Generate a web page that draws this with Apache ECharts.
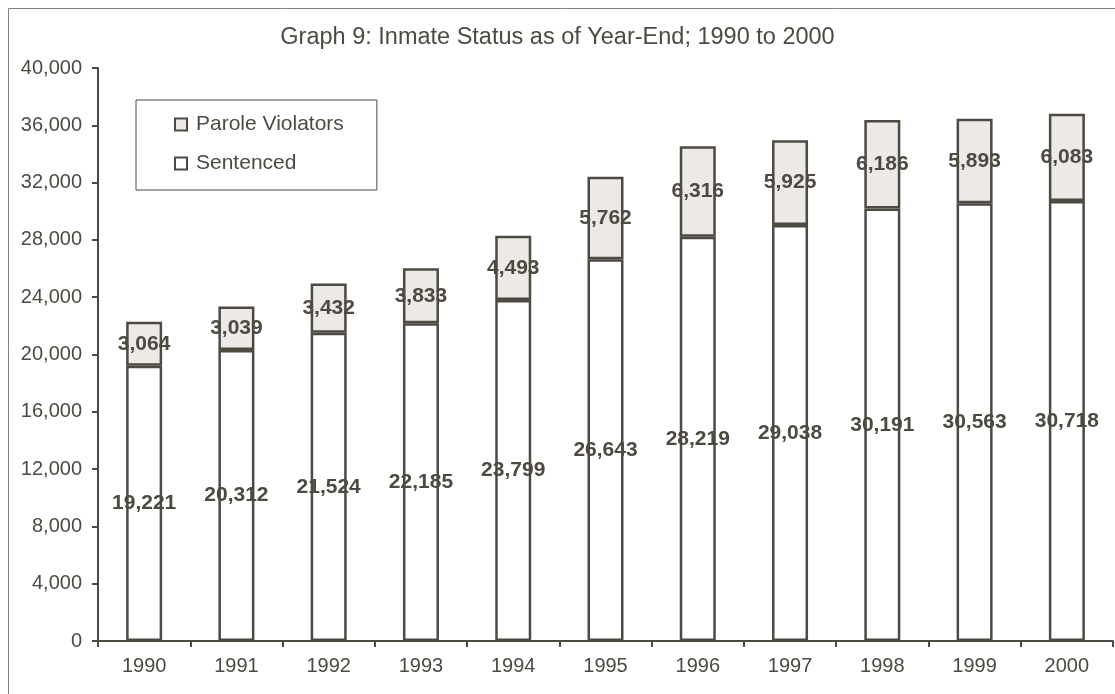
<!DOCTYPE html>
<html>
<head>
<meta charset="utf-8">
<script src="https://cdn.jsdelivr.net/npm/echarts@6/dist/echarts.min.js"></script>
<style>
  html, body { margin: 0; padding: 0; background: #fff; }
  #chart { width: 1115px; height: 694px; }
</style>
</head>
<body>
<div id="chart"></div>
<script>
// data
var years = ['1990', '1991', '1992', '1993', '1994', '1995', '1996', '1997', '1998', '1999', '2000']
var sentenced = [19221, 20312, 21524, 22185, 23799, 26643, 28219, 29038, 30191, 30563, 30718]
var paroleViolators = [3064, 3039, 3432, 3833, 4493, 5762, 6316, 5925, 6186, 5893, 6083]

var ink = '#4d4a42'
var font = 'Liberation Sans, Arial, sans-serif'

var chart = echarts.init(document.getElementById('chart'))

// label in the middle of each segment, thousands separator
var barLabel = {
  show: true,
  position: 'inside',
  color: ink,
  fontFamily: font,
  fontSize: 21,
  fontWeight: 'bold',
  formatter: function (p) {
    return p.value.toLocaleString('en-US')
  }
}

chart.setOption({
  animation: false,
  textStyle: { fontFamily: font },
  title: {
    text: 'Graph 9: Inmate Status as of Year-End; 1990 to 2000',
    left: 'center',
    top: 21,
    textStyle: { color: ink, fontSize: 23.5, fontWeight: 'normal', fontFamily: font }
  },
  graphic: [
    {
      type: 'rect',
      shape: { x: 8.5, y: 8.5, width: 1200, height: 800 },
      style: { fill: 'none', stroke: '#808080', lineWidth: 1 },
      silent: true
    }
  ],
  legend: {
    orient: 'vertical',
    left: 136,
    top: 100,
    data: ['Parole Violators', 'Sentenced'],
    icon: 'rect',
    itemWidth: 12,
    itemHeight: 12,
    itemGap: 18,
    padding: [14, 33, 16, 38],
    borderColor: ink,
    borderWidth: 1,
    textStyle: { color: ink, fontSize: 21, fontFamily: font, padding: [0, 0, 0, 4] }
  },
  grid: {
    left: 98,
    right: 2,
    top: 68,
    bottom: 53,
    containLabel: false
  },
  xAxis: {
    type: 'category',
    data: years,
    axisLine: { lineStyle: { color: ink, width: 2 } },
    axisTick: { show: true, length: 6, lineStyle: { color: ink, width: 2 } },
    axisLabel: { color: ink, fontSize: 20, margin: 15, fontFamily: font }
  },
  yAxis: {
    type: 'value',
    min: 0,
    max: 40000,
    interval: 4000,
    axisLine: { show: true, lineStyle: { color: ink, width: 2 } },
    axisTick: { show: true, length: 6, lineStyle: { color: ink, width: 2 } },
    splitLine: { show: false },
    axisLabel: {
      color: ink,
      fontSize: 20,
      margin: 16,
      fontFamily: font,
      formatter: function (v) { return v.toLocaleString('en-US') }
    }
  },
  series: [
    {
      name: 'Sentenced',
      type: 'bar',
      stack: 'total',
      barWidth: 36,
      data: sentenced,
      itemStyle: { color: '#ffffff', borderColor: ink, borderWidth: 2.5 },
      label: barLabel
    },
    {
      name: 'Parole Violators',
      type: 'bar',
      stack: 'total',
      barWidth: 36,
      data: paroleViolators,
      itemStyle: { color: '#ece9e6', borderColor: ink, borderWidth: 2.5 },
      label: barLabel
    }
  ]
})
</script>
</body>
</html>
